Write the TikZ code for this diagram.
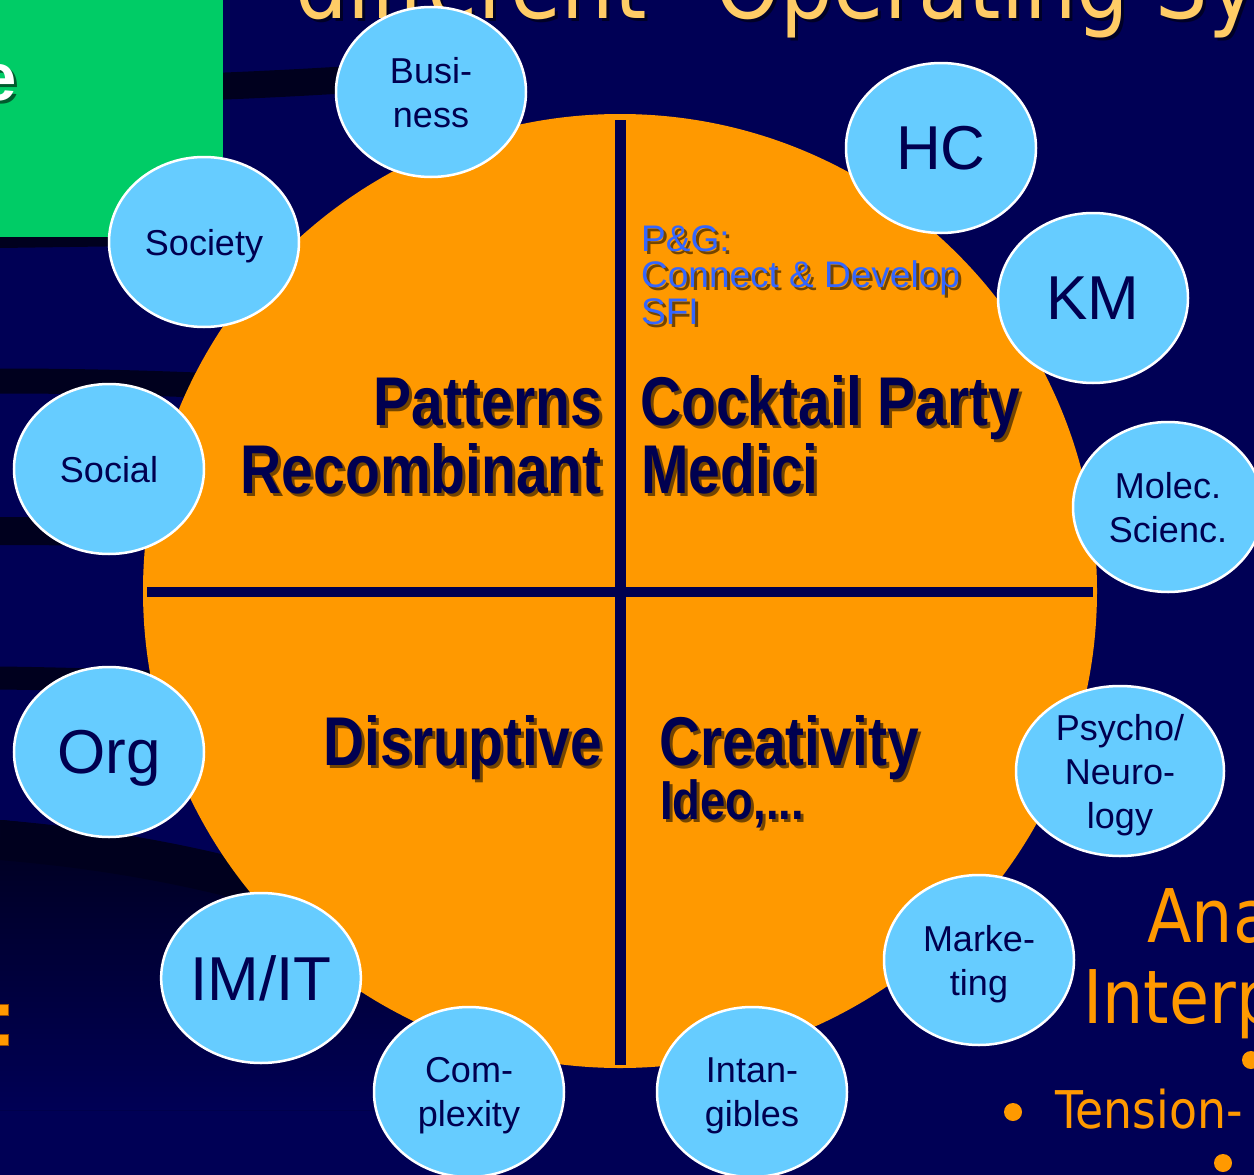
\documentclass[tikz,border=0pt]{standalone}
\usepackage{fontspec}
\setmainfont{Liberation Sans}
\newfontfamily\quadfont[FakeStretch=0.826]{Liberation Sans}
\newfontfamily\slidefont[FakeStretch=0.88]{DejaVu Sans}
\usetikzlibrary{shapes.geometric}

\definecolor{slidebg}{HTML}{000055}
\definecolor{bandblack}{HTML}{00001E}
\definecolor{discorange}{HTML}{FF9900}
\definecolor{bubblefill}{HTML}{66CCFF}
\definecolor{inkblue}{HTML}{000050}
\definecolor{titlegold}{HTML}{FFCC66}
\definecolor{pgblue}{HTML}{3366FF}
\definecolor{boxgreen}{HTML}{00CC66}

\tikzset{
    bubble/.style={ellipse, draw=white, line width=2.5pt, fill=bubblefill,
        minimum width=190pt, minimum height=170pt, inner sep=0pt, align=center,
        text depth=0pt, text=inkblue, font=\fontsize{36}{44}\selectfont},
    bigbubble/.style={bubble, font=\fontsize{62}{62}\selectfont},
    quadtext/.style={inner sep=0pt, text=inkblue, font=\quadfont\bfseries\fontsize{69}{69}\selectfont},
    quadsmall/.style={quadtext, font=\quadfont\bfseries\fontsize{55}{55}\selectfont},
    slidetext/.style={inner sep=0pt, text=discorange, font=\slidefont\fontsize{74}{74}\selectfont},
    bulletdot/.style={circle, fill=discorange, minimum size=18pt, inner sep=0pt},
    darkband/.style={draw=bandblack, line width=#1},
}

% text with a dark drop shadow behind it
\newcommand{\shadowtext}[4]{%
    \node[#2, text=black, text opacity=0.55, xshift=3pt, yshift=-3pt] (#1-sh) at (#3) {#4};
    \node[#2] (#1) at (#3) {#4};}

\begin{document}
\begin{tikzpicture}[x=1pt, y=-1pt]
    \useasboundingbox (0,0) rectangle (1254,1175);
    \clip (0,0) rectangle (1254,1175);
    \fill[slidebg] (0,0) rectangle (1254,1175);

    % background swooshes
    \fill[top color=bandblack, bottom color=slidebg]
        (0,820) .. controls (150,835) and (300,875) .. (430,935) -- (430,1110) -- (0,1110) -- cycle;
    \draw[darkband=40pt] (0,840) .. controls (120,850) and (220,870) .. (330,905);
    \draw[darkband=12pt] (0,242) -- (140,240);
    \draw[darkband=27pt] (200,87) .. controls (280,84) and (350,80) .. (430,74);
    \draw[darkband=25pt] (0,381) .. controls (80,381) and (160,383) .. (240,387);
    \draw[darkband=28pt] (0,531) .. controls (80,531) and (160,533) .. (240,536);
    \draw[darkband=23pt] (0,678) .. controls (80,679) and (160,682) .. (240,686);

    \fill[boxgreen] (0,0) rectangle (223,237);
    \shadowtext{boxe}{inner sep=0pt, anchor=base east, text=white,
        font=\bfseries\fontsize{67}{67}\selectfont}{17,100}{e}

    \shadowtext{title}{inner sep=0pt, anchor=base west, text=titlegold,
        font=\slidefont\fontsize{94}{94}\selectfont}{295,18}{different” Operating Sy}

    \fill[discorange] (620,591) circle[radius=477pt];
    \draw[inkblue, line width=11pt] (620,120) -- (620,1065);
    \draw[inkblue, line width=10pt] (147,592) -- (1093,592);

    \shadowtext{pg}{inner sep=0pt, anchor=north west, align=left, text=pgblue,
        font=\fontsize{37}{36.5}\selectfont}{641,225}{P\&G:\\Connect \& Develop\\SFI}

    \shadowtext{patterns}{quadtext, anchor=base east}{602,425}{Patterns}
    \shadowtext{recomb}{quadtext, anchor=base east}{602,493}{Recombinant}
    \shadowtext{cocktail}{quadtext, anchor=base west}{640,425}{Cocktail Party}
    \shadowtext{medici}{quadtext, anchor=base west}{641,493}{Medici}
    \shadowtext{disrupt}{quadtext, anchor=base east}{602,765}{Disruptive}
    \shadowtext{creative}{quadtext, anchor=base west}{659,765}{Creativity}
    \shadowtext{ideo}{quadsmall, anchor=base west}{660,819}{Ideo,...}

    \node[bubble] (business) at (431,92) {Busi-\\ness};
    \node[bubble] (society) at (204,242) {Society};
    \node[bubble] (social) at (109,469) {Social};
    \node[bigbubble] (org) at (109,752) {Org};
    \node[bigbubble] (imit) at (261,978) {IM/IT};
    \node[bubble] (complexity) at (469,1092) {Com-\\plexity};
    \node[bubble] (intangibles) at (752,1092) {Intan-\\gibles};
    \node[bubble] (marketing) at (979,960) {Marke-\\ting};
    \node[bubble, minimum width=208pt] (psycho) at (1120,771) {Psycho/\\Neuro-\\logy};
    \node[bubble] (molec) at (1168,507) {Molec.\\Scienc.};
    \node[bigbubble] (km) at (1093,298) {KM};
    \node[bigbubble] (hc) at (941,148) {HC};

    \node[slidetext, anchor=base west] (ana) at (1147,942) {Ana};
    \node[slidetext, anchor=base west] (interp) at (1083,1023) {Interp};
    \node[slidetext, anchor=base west, font=\slidefont\fontsize{52}{52}\selectfont] (tension) at (1055,1128) {Tension-};
    \node[bulletdot] (dot1) at (1013,1112) {};
    \node[bulletdot] (dot2) at (1251,1060) {};
    \node[bulletdot] (dot3) at (1223,1163) {};

    \fill[discorange, draw=orange!60!black] (-2,1004) rectangle (8,1015);
    \fill[discorange, draw=orange!60!black] (-2,1034) rectangle (8,1045);
\end{tikzpicture}
\end{document}
